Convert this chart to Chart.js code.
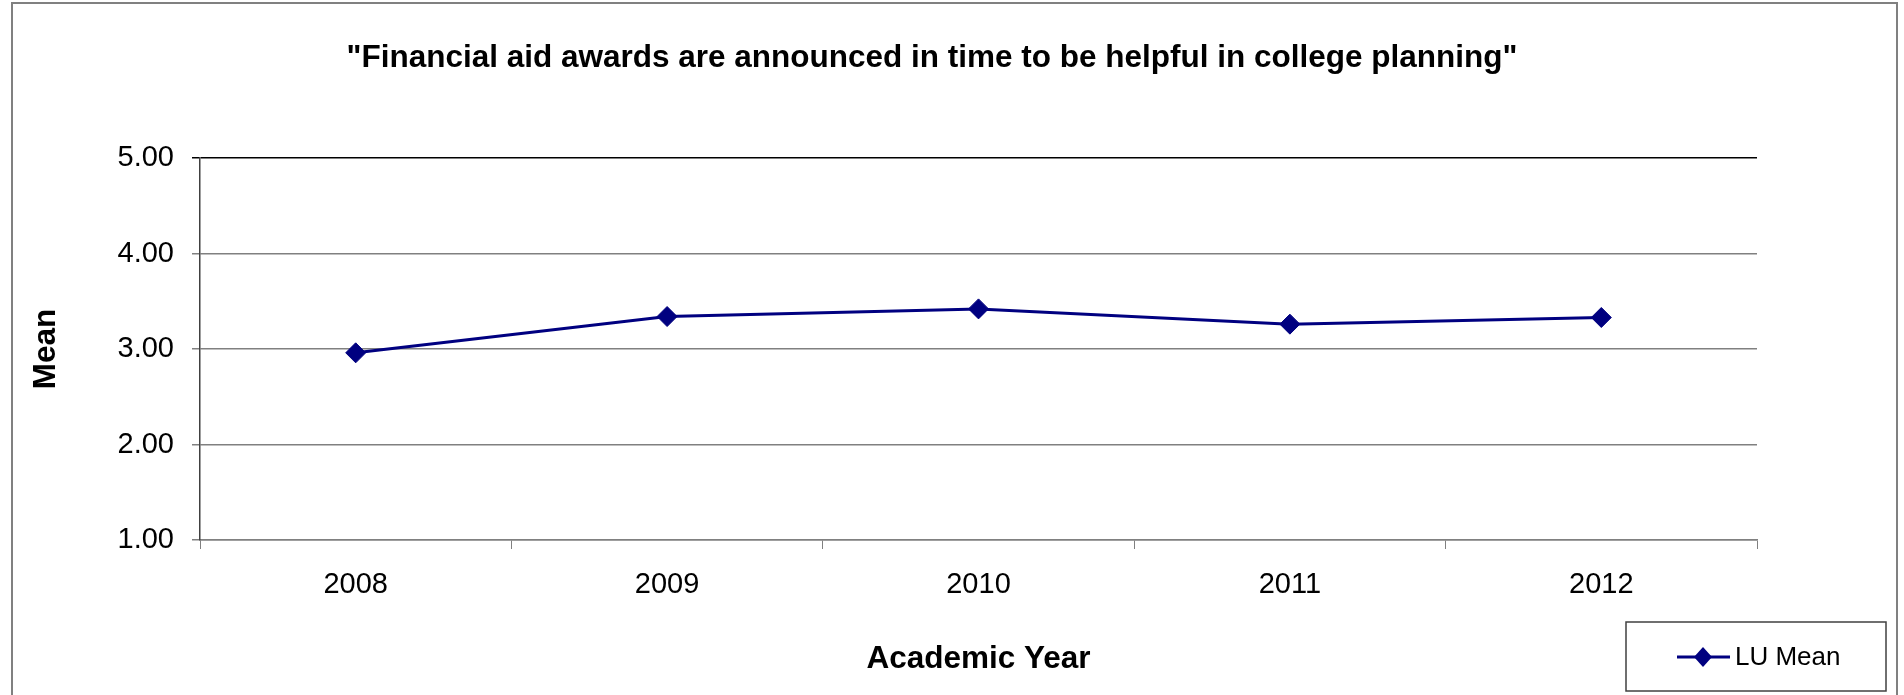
<!DOCTYPE html>
<html>
<head>
<meta charset="utf-8">
<script src="https://cdn.jsdelivr.net/npm/chart.js"></script>
<style>
  html, body { margin: 0; padding: 0; background: #fff; }
  canvas { display: block; }
</style>
</head>
<body>
<canvas id="meanChart" width="1904" height="695"></canvas>
<script>
const years = ['2008', '2009', '2010', '2011', '2012'];
const luMean = [2.96, 3.34, 3.42, 3.26, 3.33];
const yTicks = [1, 2, 3, 4, 5];

const chartTitle = '"Financial aid awards are announced in time to be helpful in college planning"';
const seriesName = 'LU Mean';
const fontFamily = '"Liberation Sans", Arial, sans-serif';
const navy = '#000080';

// frame, title and the boxed legend like the Excel original
const decorations = {
    id: 'decorations',
    beforeDraw(chart) {
        const ctx = chart.ctx;
        ctx.save();
        ctx.fillStyle = '#fff';
        ctx.fillRect(0, 0, chart.width, chart.height);
        ctx.strokeStyle = '#808080';
        ctx.lineWidth = 2;
        ctx.strokeRect(12, 3, 1885, 700);
        ctx.restore();
    },
    afterDraw(chart) {
        const ctx = chart.ctx;
        ctx.save();
        ctx.fillStyle = '#000';
        ctx.font = 'bold 31.5px ' + fontFamily;
        ctx.textAlign = 'center';
        ctx.textBaseline = 'middle';
        ctx.fillText(chartTitle, 932, 58);

        // legend
        ctx.strokeStyle = '#404040';
        ctx.lineWidth = 1.5;
        ctx.strokeRect(1626, 622, 260, 69);
        ctx.strokeStyle = navy;
        ctx.lineWidth = 3;
        ctx.beginPath();
        ctx.moveTo(1677, 657);
        ctx.lineTo(1730, 657);
        ctx.stroke();
        ctx.fillStyle = navy;
        ctx.beginPath();
        ctx.moveTo(1703, 647);
        ctx.lineTo(1712, 657);
        ctx.lineTo(1703, 667);
        ctx.lineTo(1694, 657);
        ctx.closePath();
        ctx.fill();
        ctx.fillStyle = '#000';
        ctx.font = '26px ' + fontFamily;
        ctx.textAlign = 'left';
        ctx.fillText(seriesName, 1735, 658);
        ctx.restore();
    }
};

new Chart(document.getElementById('meanChart'), {
    type: 'line',
    data: {
        labels: years,
        datasets: [{
            label: seriesName,
            data: luMean,
            borderColor: navy,
            backgroundColor: navy,
            borderWidth: 3,
            pointStyle: 'rectRot',
            pointRadius: 10,
            pointHoverRadius: 10,
            pointBorderWidth: 1,
            tension: 0
        }]
    },
    options: {
        responsive: false,
        animation: false,
        layout: { padding: { top: 158, right: 147, bottom: 0, left: 0 } },
        plugins: {
            legend: { display: false },
            title: { display: false },
            tooltip: { enabled: false }
        },
        scales: {
            x: {
                offset: true,
                grid: {
                    offset: true,
                    drawOnChartArea: false,
                    drawTicks: true,
                    tickLength: 9,
                    color: '#808080'
                },
                border: { display: true, color: '#808080', width: 1.5 },
                ticks: {
                    color: '#000',
                    padding: 19,
                    maxRotation: 0,
                    font: { family: fontFamily, size: 29 }
                },
                title: {
                    display: true,
                    text: 'Academic Year',
                    color: '#000',
                    padding: { top: 0, bottom: 17 },
                    font: { family: fontFamily, size: 31.5, weight: 'bold' }
                },
                afterFit(scale) { scale.height = 155; }
            },
            y: {
                min: 1,
                max: 5,
                afterBuildTicks(scale) {
                    scale.ticks = yTicks.map(v => ({ value: v }));
                },
                grid: {
                    color: ctx => ctx.tick && ctx.tick.value === 5 ? '#000' : '#808080',
                    lineWidth: 1.5,
                    tickLength: 8
                },
                border: { display: true, color: '#404040', width: 1.5 },
                ticks: {
                    color: '#000',
                    padding: 18,
                    font: { family: fontFamily, size: 29 },
                    callback: v => Number(v).toFixed(2)
                },
                title: {
                    display: true,
                    text: 'Mean',
                    color: '#000',
                    padding: { top: 27, bottom: 0 },
                    font: { family: fontFamily, size: 31.5, weight: 'bold' }
                },
                afterFit(scale) { scale.width = 200; }
            }
        }
    },
    plugins: [decorations]
});
</script>
</body>
</html>
